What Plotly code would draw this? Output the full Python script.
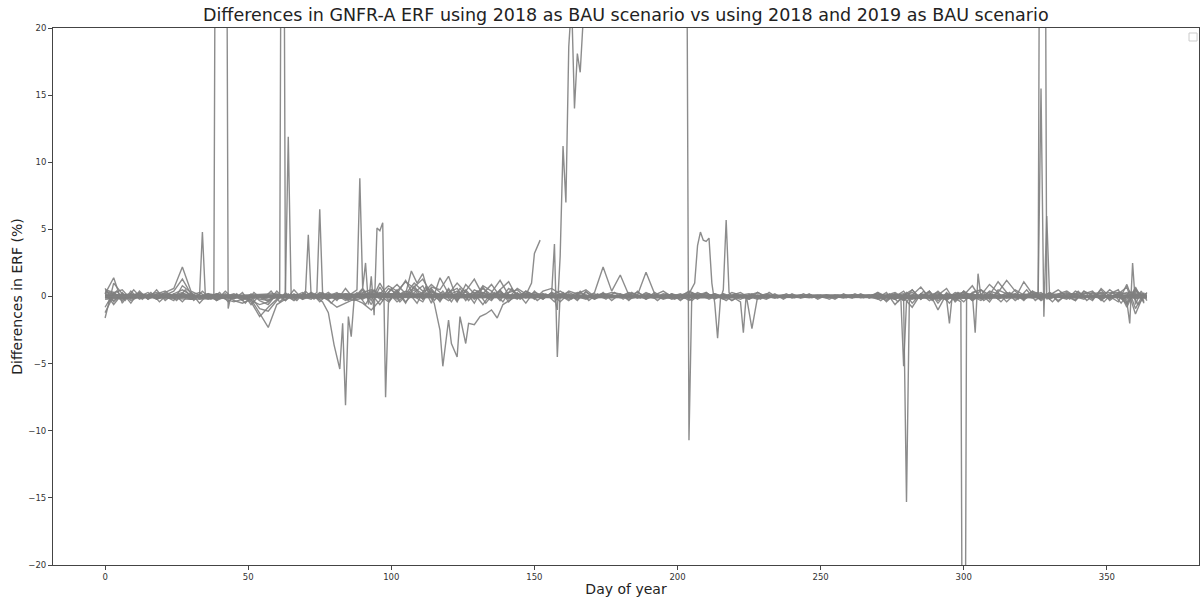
import plotly.graph_objects as go

# ---------------- data ----------------
band_days = list(range(0, 365, 3))
band_days_b = list(range(1, 365, 3))

b1 = [0.5, 0.3, -0.2, 0.1, 0.2, 0.0, -0.1, 0.3, 0.6, 2.2,
      0.4, 0.1, -0.2, 0.0, 0.1, -0.3, -0.5, -0.2, -1.2, -2.3,
      -0.6, -0.2, 0.1, 0.0, -0.2, 0.3, 0.1, -0.1, 0.2, 0.0,
      0.3, 0.5, 0.2, 0.8, 0.4, 1.1, 0.6, 0.2, 0.9, 0.3,
      0.1, 0.4, -0.1, 0.2, 0.6, 0.1, 0.3, -0.2, 0.1, 0.2,
      0.0, 0.2, -0.1, 0.1, 0.3, 0.0, -0.2, 0.1, 0.2, 0.0,
      0.1, -0.1, 0.0, 0.2, 0.1, -0.2, 0.0, 0.1, 0.3, 0.0,
      0.2, 0.0, -0.1, 0.1, 0.0, -0.2, 0.1, 0.0, 0.1, -0.1,
      0.0, 0.1, 0.0, -0.1, 0.1, 0.0, 0.0, 0.1, -0.1, 0.0,
      0.1, -0.2, 0.0, 0.4, -0.5, 0.2, -0.3, 0.1, 0.6, -0.4,
      0.2, -0.3, 0.1, 0.9, 0.3, 1.2, 0.4, -0.2, 0.1, 0.3,
      -0.2, 0.1, 0.3, -0.1, 0.2, 0.4, -0.3, 0.2, 0.5, -0.8,
      0.6, -0.4]

b2 = [-1.6, 1.0, 0.2, -0.3, 0.0, 0.3, -0.2, 0.1, 0.4, 1.3,
      0.2, -0.1, 0.1, -0.3, 0.0, 0.2, -0.1, -0.4, -1.5, -0.8,
      -0.2, 0.1, -0.3, 0.2, 0.0, -0.1, 0.3, -0.2, 0.0, 0.1,
      -0.2, 0.2, -0.6, 0.3, -0.4, 0.1, 0.7, 1.3, 0.2, -0.3,
      0.5, -0.4, 0.9, 0.2, -0.6, 0.3, 1.2, 0.1, -0.2, 0.4,
      0.1, -0.2, 0.3, 0.1, -0.3, 0.2, 0.5, 0.0, 0.2, -0.1,
      0.0, 0.2, -0.1, 0.3, 0.0, 0.1, -0.2, 0.0, 0.4, 0.1,
      -0.1, 0.2, 0.0, 0.1, 0.3, -0.1, 0.0, -0.2, 0.1, 0.0,
      0.1, -0.1, 0.0, 0.1, 0.0, -0.1, 0.1, 0.0, 0.0, 0.1,
      -0.1, 0.3, -0.6, 0.1, 0.5, -0.2, 0.3, -1.0, 0.2, 0.1,
      -0.4, 0.3, 0.5, 0.1, 1.1, 0.3, -0.3, 0.2, 0.0, -0.2,
      0.3, 0.0, -0.2, 0.4, 0.1, -0.3, 0.6, 0.0, -0.4, 0.9,
      -0.9, 0.3]

b3 = [0.2, 1.4, -0.5, 0.4, -0.2, 0.1, 0.3, 0.0, -0.3, 0.8,
      0.3, -0.2, 0.0, 0.2, -0.1, 0.1, 0.0, -0.3, -0.6, -0.4,
      0.1, -0.3, 0.2, -0.1, 0.3, 0.0, -0.2, 0.2, 0.1, -0.1,
      0.6, -0.3, 1.0, -0.1, 0.5, -0.4, 0.3, 0.8, -0.5, 1.4,
      0.2, 1.0, 0.3, -0.1, 0.8, 0.4, -0.3, 0.6, 0.2, 0.0,
      0.3, 0.1, 0.0, -0.1, 0.4, 0.2, -0.1, 0.3, 2.2, 0.4,
      1.6, 0.1, 0.3, 0.0, -0.1, 0.2, 0.1, -0.2, 0.0, 0.2,
      0.1, -0.1, 0.2, 0.0, -0.2, 0.1, 0.3, 0.0, -0.1, 0.1,
      -0.1, 0.0, 0.1, 0.0, -0.1, 0.1, 0.0, -0.1, 0.1, 0.0,
      0.3, 0.0, 0.2, -0.3, 0.1, 0.7, -0.1, 0.4, -0.2, 0.3,
      0.1, 0.8, -0.2, 0.4, 0.2, -0.1, 0.5, 0.1, 0.3, -0.3,
      0.1, 0.5, 0.0, -0.3, 0.4, 0.1, 0.2, -0.2, 0.3, 0.2,
      0.4, 0.1]

b4 = [-0.8, 0.3, 0.5, -0.2, 0.1, -0.1, 0.2, 0.4, -0.1, 0.2,
      -0.2, 0.0, 0.2, 0.1, -0.2, -0.4, -0.2, 0.0, -0.9, -1.1,
      -0.3, 0.2, 0.0, 0.3, -0.1, 0.1, -0.3, -0.8, -0.5, -0.2,
      -0.5, -1.0, -0.3, 0.6, 0.2, 1.2, 0.0, -0.4, 0.7, 0.5,
      1.5, -0.2, 0.4, 1.3, 0.1, -0.3, 0.5, 1.1, -0.1, 0.4,
      -0.2, 0.4, 0.6, 0.2, 0.1, -0.2, 0.3, 0.0, 0.2, 0.1,
      0.0, 0.3, 0.1, 1.8, 0.2, -0.1, 0.0, 0.2, -0.1, 0.3,
      0.0, 0.2, -0.1, 0.3, 0.1, 0.0, -0.2, 0.1, 0.0, 0.1,
      0.1, 0.0, -0.1, 0.0, 0.1, 0.0, -0.1, 0.1, 0.0, 0.0,
      -0.2, 0.1, 0.3, -0.1, -0.8, 0.2, 0.1, 0.3, -0.3, 0.2,
      0.3, -0.2, 0.2, -0.4, 0.5, 0.2, -0.1, 1.1, 0.2, 0.0,
      -0.1, 0.2, 0.4, 0.0, -0.2, 0.3, -0.1, 0.5, 0.0, -0.5,
      0.2, -0.3]

b5 = [0.3, -0.6, 0.2, 0.0, 0.3, -0.2, 0.1, -0.1, 0.2, 0.5,
      0.1, 0.3, -0.1, 0.2, 0.0, 0.1, -0.3, 0.2, -0.3, -0.6,
      0.2, 0.0, -0.2, 0.1, 0.2, -0.1, 0.0, 0.3, -0.2, 0.1,
      0.0, 0.4, -0.2, 0.3, 0.9, 0.2, 1.0, 0.4, 0.6, -0.2,
      0.3, 0.6, -0.3, 0.5, 0.2, 0.9, 0.0, 0.3, 0.5, -0.1,
      0.2, -0.1, 0.1, 0.4, 0.0, 0.3, 0.1, -0.2, 0.1, 0.3,
      0.2, 0.0, 0.1, -0.2, 0.1, 0.4, 0.0, 0.1, -0.3, 0.1,
      0.3, -0.1, 0.1, -0.3, 0.1, 0.2, 0.0, 0.1, -0.1, 0.0,
      0.0, 0.1, 0.0, 0.0, -0.1, 0.1, 0.0, 0.0, 0.1, -0.1,
      0.0, -0.3, 0.1, 0.2, -0.2, 0.0, 0.4, -0.3, 0.1, -0.2,
      0.4, 0.0, -0.3, 0.2, -0.1, 0.3, 0.1, -0.2, 0.4, 0.1,
      0.2, -0.3, 0.1, 0.2, -0.1, 0.0, 0.3, -0.1, 0.2, 0.7,
      -1.3, 0.2]

b6 = [-1.2, 0.1, -0.3, 0.2, 0.0, 0.1, -0.2, 0.0, 0.1, 0.3,
      -0.1, 0.0, 0.1, -0.2, 0.1, 0.0, -0.1, 0.1, -0.2, -0.3,
      0.0, -0.1, 0.1, -0.2, 0.0, 0.2, -0.1, 0.1, -0.1, -0.3,
      -0.1, 0.2, 0.1, -0.4, 0.3, 0.0, 0.5, -0.2, 0.4, 0.1,
      -0.3, 0.2, 0.5, -0.2, 0.3, 0.1, 0.4, -0.1, 0.6, 0.2,
      -0.1, 0.2, 0.0, 0.1, -0.2, 0.1, 0.0, 0.2, -0.1, 0.0,
      0.1, -0.2, 0.0, 0.1, 0.0, -0.1, 0.2, 0.0, 0.1, -0.1,
      0.0, 0.1, -0.2, 0.0, 0.1, -0.1, 0.0, 0.2, 0.0, 0.1,
      -0.1, 0.0, 0.1, 0.0, 0.0, -0.1, 0.0, 0.1, 0.0, 0.0,
      0.2, 0.0, -0.2, 0.1, 0.3, -0.1, 0.0, 0.2, -0.1, 0.0,
      -0.1, 0.2, 0.0, 0.3, -0.2, 0.1, 0.2, 0.0, -0.1, 0.2,
      0.0, 0.1, -0.1, 0.2, 0.0, 0.1, -0.2, 0.1, 0.0, -0.2,
      0.3, 0.0]

b7 = [0.0, -0.3, 0.1, 0.2, -0.1, 0.0, 0.1, -0.1, 0.0, 0.2,
      0.1, -0.1, 0.0, 0.1, 0.0, -0.1, 0.0, 0.1, -0.1, 0.0,
      0.1, 0.0, -0.1, 0.0, 0.1, 0.0, -0.1, 0.0, 0.1, 0.0,
      0.2, -0.1, 0.3, 0.1, -0.2, 0.2, 0.0, 0.3, 0.1, -0.1,
      0.2, 0.0, 0.1, 0.3, -0.1, 0.2, 0.1, 0.0, 0.2, 0.1,
      0.0, 0.1, -0.1, 0.0, 0.1, 0.0, 0.1, -0.1, 0.0, 0.1,
      -0.1, 0.0, 0.1, 0.0, -0.1, 0.0, 0.1, 0.0, 0.0, 0.1,
      0.0, -0.1, 0.0, 0.1, 0.0, 0.0, 0.1, -0.1, 0.0, 0.0,
      0.0, 0.0, 0.1, 0.0, 0.0, 0.0, -0.1, 0.0, 0.0, 0.1,
      0.0, 0.1, 0.0, -0.1, 0.1, 0.0, -0.1, 0.1, 0.0, 0.1,
      0.1, 0.0, 0.1, -0.1, 0.0, 0.1, 0.0, 0.1, -0.1, 0.0,
      0.1, 0.0, -0.1, 0.1, 0.0, -0.1, 0.1, 0.0, 0.1, 0.3,
      -0.2, 0.1]

b8 = [0.4, 0.2, 0.0, -0.1, 0.2, 0.1, 0.0, 0.2, 0.1, 0.0,
      -0.2, 0.1, -0.1, 0.0, 0.2, -0.1, 0.0, -0.2, 0.0, -0.2,
      -0.1, 0.1, 0.0, -0.1, 0.1, -0.2, 0.0, 0.1, -0.3, 0.0,
      0.1, 0.3, 0.0, 0.2, 0.1, 0.4, 0.2, 0.1, 0.3, 0.2,
      0.0, 0.2, 0.1, 0.0, 0.3, -0.1, 0.2, 0.1, -0.1, 0.1,
      0.1, 0.0, 0.1, -0.1, 0.0, 0.1, -0.1, 0.0, 0.1, 0.0,
      0.0, 0.1, -0.1, 0.0, 0.1, 0.0, -0.1, 0.0, 0.1, 0.0,
      0.1, 0.0, 0.0, -0.1, 0.0, 0.1, 0.0, 0.0, -0.1, 0.0,
      0.0, -0.1, 0.0, 0.0, 0.1, 0.0, 0.0, -0.1, 0.0, 0.0,
      -0.1, 0.0, 0.1, 0.0, -0.1, 0.1, 0.0, -0.1, 0.0, 0.1,
      0.0, -0.1, 0.1, 0.0, 0.1, -0.1, 0.0, 0.1, 0.0, 0.1,
      -0.1, 0.1, 0.0, -0.1, 0.1, 0.0, -0.1, 0.0, 0.1, -0.4,
      0.5, -0.1]

b9 = [0.6, -0.4, 0.3, -0.5, 0.4, -0.2, 0.5, -0.3, 0.2, -0.4,
      0.3, -0.5, 0.2, -0.3, 0.4, -0.2, 0.3, -0.6, 0.1, -0.4,
      0.4, -0.3, 0.5, -0.2, 0.3, -0.4, 0.2, -0.3, 0.6, -0.2,
      0.5, -0.6, 0.7, -0.3, 0.4, -0.5, 0.8, -0.2, 0.5, -0.4,
      0.6, -0.3, 0.4, -0.5, 0.7, -0.2, 0.5, -0.4, 0.3, -0.5,
      0.4, -0.2, 0.3, -0.4, 0.2, -0.3, 0.4, -0.2, 0.3, -0.3,
      0.2, -0.3, 0.4, -0.2, 0.3, -0.1, 0.2, -0.3, 0.2, -0.2,
      0.3, -0.2, 0.2, -0.3, 0.1, -0.2, 0.3, -0.1, 0.2, -0.2,
      0.2, -0.1, 0.2, -0.2, 0.1, -0.2, 0.2, -0.1, 0.2, -0.1,
      0.3, -0.4, 0.2, -0.3, 0.5, -0.2, 0.4, -0.5, 0.3, -0.3,
      0.4, -0.3, 0.5, -0.2, 0.3, -0.4, 0.2, -0.3, 0.4, -0.2,
      0.3, -0.4, 0.2, -0.3, 0.4, -0.2, 0.5, -0.3, 0.2, -0.6,
      0.7, -0.5]

b10 = [-0.5, 0.4, -0.3, 0.5, -0.2, 0.3, -0.4, 0.2, -0.3, 0.5,
       -0.3, 0.4, -0.2, 0.3, -0.4, 0.2, -0.5, 0.3, -0.2, 0.4,
       -0.4, 0.2, -0.3, 0.4, -0.2, 0.3, -0.5, 0.2, -0.3, 0.3,
       -0.6, 0.5, -0.3, 0.6, -0.4, 0.3, -0.5, 0.7, -0.3, 0.4,
       -0.4, 0.6, -0.3, 0.4, -0.5, 0.3, -0.4, 0.6, -0.2, 0.3,
       -0.3, 0.2, -0.4, 0.3, -0.2, 0.4, -0.3, 0.2, -0.2, 0.3,
       -0.2, 0.3, -0.1, 0.2, -0.3, 0.2, -0.2, 0.1, -0.3, 0.2,
       -0.2, 0.1, -0.3, 0.2, -0.1, 0.2, -0.2, 0.3, -0.1, 0.2,
       -0.1, 0.2, -0.1, 0.1, -0.2, 0.1, -0.1, 0.2, -0.1, 0.1,
       -0.3, 0.2, -0.4, 0.3, -0.2, 0.4, -0.3, 0.2, -0.5, 0.3,
       -0.2, 0.4, -0.3, 0.2, -0.4, 0.3, -0.2, 0.5, -0.3, 0.2,
       -0.4, 0.3, -0.2, 0.4, -0.3, 0.2, -0.4, 0.3, -0.5, 0.4,
       -0.6, 0.3]

band_series = [(band_days, b1), (band_days, b2), (band_days, b3), (band_days, b4),
               (band_days, b5), (band_days, b6), (band_days, b7), (band_days, b8),
               (band_days, b9), (band_days_b, b10)]

# event series (days, values); values beyond +/-20 run off the axes
ev1_x = [0, 10, 20, 30, 33, 34, 35, 38, 39, 42, 43, 44, 60, 100, 160, 220, 280, 340, 364]
ev1_y = [0.3, -0.1, 0.2, 0.0, 0.1, 4.8, 0.2, 0.1, 60, 60, -0.9, 0.1, 0.0, 0.2, -0.1, 0.0, 0.1, -0.1, 0.2]

ev2_x = [0, 20, 40, 59, 61, 62, 63, 64, 66, 80, 140, 220, 300, 364]
ev2_y = [-0.2, 0.1, 0.0, 0.2, 0.1, 60, 0.3, 0.0, 0.1, -0.1, 0.1, 0.0, -0.1, 0.0]

ev3_x = [0, 30, 62, 63, 64, 65, 67, 70, 71, 72, 74, 75, 76, 78, 120, 200, 300, 364]
ev3_y = [0.1, -0.2, 0.0, 0.3, 11.9, 0.2, -0.1, 0.2, 4.6, 0.0, 0.3, 6.5, 0.2, -0.1, 0.1, 0.0, -0.1, 0.0]

ev4_x = [0, 40, 74, 76, 78, 80, 82, 83, 84, 85, 86, 87, 90, 130, 200, 280, 364]
ev4_y = [0.0, 0.1, -0.1, -0.4, -1.2, -3.6, -5.4, -2.0, -8.1, -1.5, -3.0, -0.2, 0.1, 0.0, 0.1, -0.1, 0.0]

ev5_x = [0, 50, 86, 88, 89, 90, 91, 92, 93, 94, 95, 96, 97, 98, 99, 101, 150, 250, 364]
ev5_y = [0.1, -0.1, 0.2, 0.5, 8.8, 0.6, 2.5, -0.6, 1.5, -1.4, 5.1, 4.9, 5.5, -7.5, -0.5, 0.2, 0.0, 0.1, -0.1]

ev6_x = [0, 60, 105, 107, 109, 111, 113, 115, 117, 118, 120, 121, 123, 124, 126, 127,
         129, 131, 133, 135, 137, 139, 142, 145, 200, 300, 364]
ev6_y = [0.0, 0.1, 0.2, 1.9, 1.0, 1.7, 0.2, -0.5, -2.5, -5.2, -1.75, -3.5, -4.5, -1.5, -3.5, -2.0,
         -2.1, -1.5, -1.3, -1.0, -1.6, -0.6, -0.2, 0.1, 0.0, -0.1, 0.1]

ev7_x = [0, 80, 140, 147, 149, 150, 152, 153, 156, 157, 158, 159, 161, 200, 300, 364]
ev7_y = [0.1, -0.1, 0.0, 0.1, 1.0, 3.2, 4.2, None, 0.1, 3.9, -4.5, 0.2, 0.0, 0.1, -0.1, 0.0]

ev8_x = [0, 80, 150, 157, 158, 159, 160, 161, 162, 163, 164, 165, 166, 167, 168, 203, 204, 205, 207, 260, 364]
ev8_y = [0.0, 0.1, -0.1, 0.0, -1.0, 3.0, 11.2, 7.0, 18.6, 22.0, 14.0, 18.1, 16.7, 20.5, 30.0, 40.0, -10.7, 0.3, 0.0, 0.1, 0.0]

ev9_x = [0, 100, 200, 204, 206, 207, 208, 209, 210, 211, 212, 213, 214, 215, 216, 217, 218,
         219, 222, 223, 224, 226, 228, 300, 364]
ev9_y = [-0.1, 0.1, 0.0, 0.2, 1.0, 3.8, 4.8, 4.2, 4.1, 4.35, 1.0, -0.5, -3.1, -0.2, 0.5, 5.7, 0.3,
         0.0, -0.4, -2.7, 0.1, -2.4, 0.0, 0.1, 0.0]

ev10_x = [0, 100, 200, 270, 276, 278, 279, 280, 282, 294, 295, 296, 330, 364]
ev10_y = [0.1, 0.0, -0.1, 0.1, -0.2, 0.0, -5.2, -0.4, 0.1, -0.2, -2.0, 0.1, 0.0, -0.1]

ev11_x = [0, 150, 250, 278, 279, 280, 281, 283, 303, 304, 305, 306, 364]
ev11_y = [0.0, 0.1, 0.0, 0.1, -0.2, -15.3, -0.3, 0.0, 0.2, -2.7, 1.7, 0.0, 0.1]

ev12_x = [0, 150, 260, 296, 299, 300, 301, 302, 304, 364]
ev12_y = [-0.1, 0.0, 0.1, 0.0, -0.4, -60, 0.2, 0.0, 0.1, 0.0]

ev13_x = [0, 150, 280, 323, 326, 327, 328, 329, 331, 364]
ev13_y = [0.0, 0.1, -0.1, 0.1, 0.3, 60, 60, -0.2, 0.1, 0.0]

ev14_x = [0, 120, 250, 320, 326, 327, 328, 329, 330, 340, 364]
ev14_y = [0.1, -0.1, 0.0, 0.1, 0.1, 15.5, -1.5, 6.0, 0.0, 0.1, -0.1]

ev15_x = [0, 100, 200, 300, 355, 357, 358, 359, 360, 362, 364]
ev15_y = [0.0, 0.1, -0.1, 0.0, 0.3, -0.4, -2.0, 2.5, -0.6, 0.4, -0.3]

events = [(ev1_x, ev1_y), (ev2_x, ev2_y), (ev3_x, ev3_y), (ev4_x, ev4_y), (ev5_x, ev5_y),
          (ev6_x, ev6_y), (ev7_x, ev7_y), (ev8_x, ev8_y), (ev9_x, ev9_y), (ev10_x, ev10_y),
          (ev11_x, ev11_y), (ev12_x, ev12_y), (ev13_x, ev13_y), (ev14_x, ev14_y), (ev15_x, ev15_y)]

x_ticks = [0, 50, 100, 150, 200, 250, 300, 350]
y_ticks = [-20, -15, -10, -5, 0, 5, 10, 15, 20]

TITLE = "Differences in GNFR-A ERF using 2018 as BAU scenario vs using 2018 and 2019 as BAU scenario"

# ---------------- figure ----------------
LINE = dict(color="rgba(128,128,128,0.9)", width=1.4)
FONT = "DejaVu Sans"

fig = go.Figure()
for xs, ys in band_series:
    fig.add_trace(go.Scatter(x=xs, y=ys, mode="lines", line=LINE,
                             showlegend=False, hoverinfo="skip"))
for xs, ys in events:
    fig.add_trace(go.Scatter(x=xs, y=ys, mode="lines", line=LINE,
                             showlegend=False, hoverinfo="skip", connectgaps=False))

axis_common = dict(showgrid=False, zeroline=False, showline=True, linecolor="#444",
                   linewidth=1, mirror=True, ticks="outside", ticklen=4, tickcolor="#444",
                   tickfont=dict(family=FONT, size=8.5, color="#333"))

fig.update_layout(
    width=1200, height=600,
    margin=dict(l=53, r=1, t=28, b=35),
    paper_bgcolor="white", plot_bgcolor="white",
    font=dict(family=FONT, color="#222"),
    title=dict(text=TITLE, x=0.5215, xanchor="center", y=0.975, yanchor="middle",
               font=dict(family=FONT, size=17.5, color="#222")),
    xaxis=dict(range=[-18.2, 382.2], tickvals=x_ticks,
               title=dict(text="Day of year", font=dict(family=FONT, size=14, color="#222"), standoff=2),
               **axis_common),
    yaxis=dict(range=[-20, 20], tickvals=y_ticks,
               title=dict(text="Differences in ERF (%)", font=dict(family=FONT, size=14, color="#222"), standoff=2),
               **axis_common),
    showlegend=False,
)
fig.update_xaxes(automargin=False)
fig.update_yaxes(automargin=False)

# empty legend frame in the top-right corner
fig.add_shape(type="rect", xref="paper", yref="paper", x0=0.9913, x1=0.9983, y0=0.9758, y1=0.9907,
              line=dict(color="#ccc", width=1), fillcolor="white")

fig.write_html("out.html")
